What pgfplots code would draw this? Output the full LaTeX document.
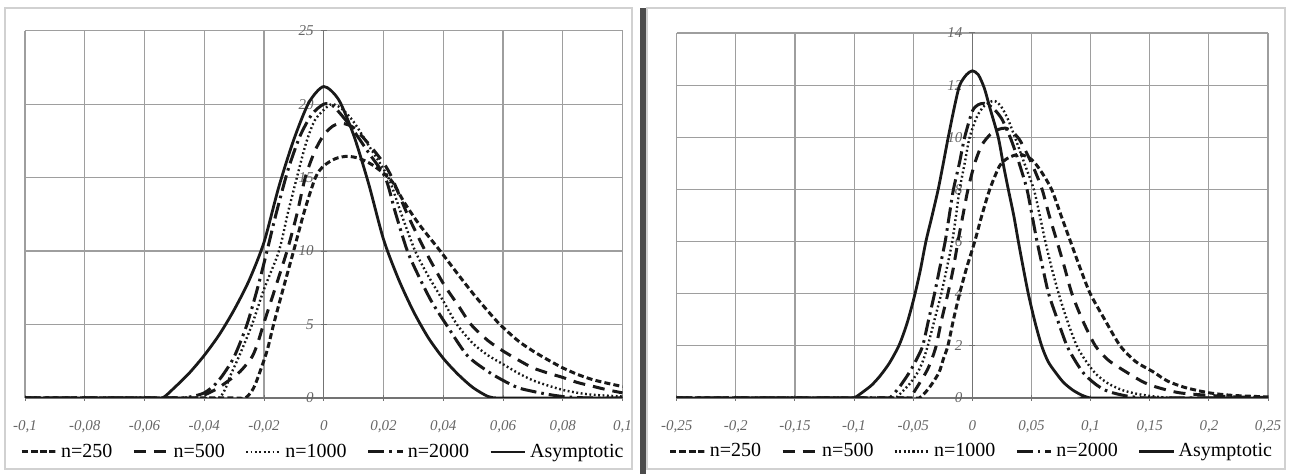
\documentclass[border=0pt]{standalone}
\usepackage{fontspec}
\setmainfont{Liberation Serif}
\usepackage{pgfplots}
\pgfplotsset{compat=1.18}
\pgfplotsset{
  panel/.style={
    scale only axis,
    axis lines=center,
    axis line style={-, draw=black!55, line width=0.7pt},
    hide obscured x ticks=false, hide obscured y ticks=false,
    grid=major,
    grid style={draw=black!38, line width=0.6pt},
    tick style={draw=black!55, line width=0.5pt},
    major tick length=3pt,
    tick align=center,
    xticklabel style={font=\fontsize{7.5}{8}\selectfont\itshape, text=black!60, yshift=-6pt},
    yticklabel style={font=\fontsize{7.5}{8}\selectfont\itshape, text=black!60},
    legend columns=5,
    legend style={draw=none, fill=none, font=\fontsize{10}{12}\selectfont,
      /tikz/every even column/.append style={column sep=8pt},
      at={(0.5,-0.147)}, anchor=center},
  },
  s250/.style={black!90, line width=1.5pt, smooth, tension=0.45, dash pattern=on 3pt off 1.6pt},
  s500/.style={black!90, line width=1.5pt, smooth, tension=0.45, dash pattern=on 6pt off 4pt},
  s1000/.style={black!90, line width=1.2pt, smooth, tension=0.45, dash pattern=on 0.9pt off 1.3pt},
  s2000/.style={black!90, line width=1.5pt, smooth, tension=0.45, dash pattern=on 8pt off 2.5pt on 1.3pt off 2.5pt},
  sasy/.style={black!90, line width=1.4pt, smooth, tension=0.45},
}
\begin{document}
\begin{tikzpicture}
\useasboundingbox (0,0) rectangle (644.5pt,237pt);
\draw[black!18, line width=1pt] (2.5pt,2.5pt) rectangle (316pt,233pt);
\draw[black!18, line width=1pt] (323.5pt,2.5pt) rectangle (642.5pt,233pt);
\fill[black!70] (320pt,0pt) rectangle (323pt,233pt);

\begin{axis}[panel,
  at={(12.5pt,38pt)}, anchor=south west,
  width=298.75pt, height=183.65pt,
  xmin=-0.1, xmax=0.1, ymin=0, ymax=25,
  xtick={-0.1,-0.08,-0.06,-0.04,-0.02,0,0.02,0.04,0.06,0.08,0.1},
  xticklabels={{-0,1},{-0,08},{-0,06},{-0,04},{-0,02},{0},{0,02},{0,04},{0,06},{0,08},{0,1}},
  ytick={0,5,10,15,20,25},
  yticklabels={0,5,10,15,20,25},
]
\addplot[s250] coordinates {(-0.1,0) (-0.05,0) (-0.03,0) (-0.0263,0) (-0.024,0.5) (-0.0224,1.2) (-0.019,3.2) (-0.0168,5) (-0.0135,7.5) (-0.0101,10) (-0.0065,12.7) (-0.0028,15) (0,15.8) (0.004,16.3) (0.008,16.45) (0.012,16.3) (0.016,15.9) (0.02,15.3) (0.023,14.7) (0.027,13.3) (0.032,11.8) (0.039,10) (0.045,8.4) (0.05,7.1) (0.055,5.9) (0.059,5) (0.065,3.9) (0.07,3.2) (0.075,2.6) (0.08,2.05) (0.085,1.6) (0.09,1.25) (0.095,1.0) (0.1,0.78)};
\addlegendentry{n=250}
\addplot[s500] coordinates {(-0.1,0) (-0.06,0) (-0.046,0) (-0.043,0) (-0.04,0.2) (-0.036,0.6) (-0.0324,1.1) (-0.028,1.8) (-0.024,2.8) (-0.022,3.8) (-0.0202,5) (-0.017,7) (-0.0123,10) (-0.009,12.5) (-0.0062,15) (-0.003,16.8) (0,17.9) (0.003,18.5) (0.006,18.7) (0.01,18.4) (0.015,17.3) (0.02,16.0) (0.0228,15) (0.028,12.5) (0.034,10) (0.04,7.8) (0.045,6.3) (0.0493,5) (0.055,3.9) (0.06,3.2) (0.065,2.6) (0.07,2.05) (0.075,1.7) (0.08,1.4) (0.085,1.05) (0.09,0.8) (0.095,0.55) (0.1,0.35)};
\addlegendentry{n=500}
\addplot[s1000] coordinates {(-0.1,0) (-0.06,0) (-0.038,0) (-0.035,0) (-0.033,0.6) (-0.0313,1.5) (-0.028,3.0) (-0.024,5) (-0.02,7.4) (-0.015,10) (-0.012,12.6) (-0.009,15) (-0.006,17.3) (-0.003,18.9) (0.001,19.8) (0.003,20.0) (0.006,19.7) (0.01,18.8) (0.015,17.2) (0.0216,15) (0.026,12.5) (0.0306,10) (0.035,8.3) (0.04,6.6) (0.0446,5) (0.05,3.7) (0.055,2.9) (0.06,2.3) (0.065,1.7) (0.07,1.2) (0.075,0.85) (0.08,0.55) (0.085,0.35) (0.09,0.22) (0.1,0.1)};
\addlegendentry{n=1000}
\addplot[s2000] coordinates {(-0.1,0) (-0.06,0) (-0.05,0) (-0.047,0) (-0.043,0.15) (-0.04,0.35) (-0.037,0.8) (-0.034,1.5) (-0.03,2.8) (-0.0257,5) (-0.022,7.6) (-0.019,10) (-0.016,12.5) (-0.012,15.5) (-0.008,17.8) (-0.004,19.3) (0,20.0) (0.003,19.9) (0.007,19.0) (0.01,18.2) (0.015,16.7) (0.0206,15) (0.024,12.6) (0.028,10) (0.032,8.2) (0.036,6.6) (0.041,5) (0.048,2.9) (0.055,1.8) (0.06,1.2) (0.065,0.7) (0.07,0.45) (0.075,0.25) (0.08,0.1) (0.085,0.03) (0.09,0) (0.1,0)};
\addlegendentry{n=2000}
\addplot[sasy] coordinates {(-0.1,0) (-0.07,0) (-0.058,0) (-0.054,0) (-0.05,0.7) (-0.045,1.7) (-0.04,2.9) (-0.035,4.3) (-0.03,6.0) (-0.025,8.0) (-0.02,10.6) (-0.015,14.4) (-0.01,17.6) (-0.005,20.1) (0,21.2) (0.005,20.3) (0.01,17.9) (0.015,14.6) (0.02,10.8) (0.025,8.1) (0.03,5.9) (0.035,4.1) (0.04,2.7) (0.045,1.6) (0.05,0.7) (0.055,0.1) (0.058,0) (0.062,0) (0.08,0) (0.1,0)};
\addlegendentry{Asymptotic}
\end{axis}

\begin{axis}[panel,
  at={(338.35pt,38pt)}, anchor=south west,
  width=295.65pt, height=182.5pt,
  xmin=-0.25, xmax=0.25, ymin=0, ymax=14,
  xtick={-0.25,-0.2,-0.15,-0.1,-0.05,0,0.05,0.1,0.15,0.2,0.25},
  xticklabels={{-0,25},{-0,2},{-0,15},{-0,1},{-0,05},{0},{0,05},{0,1},{0,15},{0,2},{0,25}},
  ytick={0,2,4,6,8,10,12,14},
  yticklabels={0,2,4,6,8,10,12,14},
]
\addplot[s250] coordinates {(-0.25,0) (-0.1,0) (-0.05,0) (-0.045,0) (-0.04,0.2) (-0.034,0.55) (-0.028,1) (-0.0245,1.5) (-0.0207,2) (-0.016,3) (-0.0108,4) (-0.0048,5) (0.002,6) (0.008,7) (0.0147,8) (0.023,8.9) (0.03,9.2) (0.04,9.35) (0.05,9.15) (0.058,8.7) (0.067,8) (0.075,7) (0.083,6) (0.091,5) (0.0997,4) (0.112,3) (0.125,2) (0.138,1.4) (0.153,1) (0.165,0.65) (0.18,0.4) (0.2,0.2) (0.22,0.1) (0.25,0.04)};
\addlegendentry{n=250}
\addplot[s500] coordinates {(-0.25,0) (-0.1,0) (-0.058,0) (-0.053,0) (-0.047,0.4) (-0.039,1) (-0.035,1.4) (-0.0306,2) (-0.026,3) (-0.0207,4) (-0.016,5) (-0.0122,6) (-0.008,7) (-0.0037,8) (0.002,9) (0.008,9.7) (0.015,10.1) (0.022,10.3) (0.028,10.35) (0.034,10.2) (0.04,9.9) (0.047,9.3) (0.053,8.7) (0.059,8) (0.065,7) (0.0716,6) (0.078,5) (0.0842,4) (0.093,3) (0.104,2) (0.115,1.45) (0.13,1) (0.145,0.6) (0.157,0.4) (0.175,0.2) (0.2,0.1) (0.225,0.04) (0.25,0.02)};
\addlegendentry{n=500}
\addplot[s1000] coordinates {(-0.25,0) (-0.1,0) (-0.07,0) (-0.065,0) (-0.058,0.3) (-0.052,0.6) (-0.046,1) (-0.042,1.4) (-0.0377,2) (-0.032,3) (-0.0263,4) (-0.0215,5) (-0.017,6) (-0.0138,7) (-0.0108,8) (-0.0065,9) (-0.0023,10) (0.004,10.8) (0.01,11.2) (0.018,11.4) (0.024,11.2) (0.03,10.7) (0.036,10) (0.044,9) (0.052,8) (0.057,7) (0.0617,6) (0.067,5) (0.073,4) (0.08,3) (0.0883,2) (0.097,1.35) (0.105,0.9) (0.115,0.55) (0.127,0.3) (0.14,0.15) (0.155,0.05) (0.17,0) (0.18,0) (0.25,0)};
\addlegendentry{n=1000}
\addplot[s2000] coordinates {(-0.25,0) (-0.1,0) (-0.075,0) (-0.07,0) (-0.062,0.4) (-0.053,1) (-0.047,1.5) (-0.042,2) (-0.037,3) (-0.032,4) (-0.0275,5) (-0.023,6) (-0.0195,7) (-0.016,8) (-0.011,9) (-0.0065,10) (0,11.0) (0.005,11.25) (0.01,11.3) (0.015,11.2) (0.02,11.0) (0.025,10.7) (0.029,10.3) (0.032,10) (0.036,9.5) (0.041,8.8) (0.0462,8) (0.0505,7) (0.0547,6) (0.0595,5) (0.0645,4) (0.072,3) (0.08,2) (0.088,1.35) (0.095,0.9) (0.105,0.5) (0.115,0.25) (0.13,0.08) (0.145,0) (0.155,0) (0.25,0)};
\addlegendentry{n=2000}
\addplot[sasy] coordinates {(-0.25,0) (-0.15,0) (-0.105,0) (-0.1,0) (-0.092,0.25) (-0.085,0.5) (-0.078,0.85) (-0.07,1.35) (-0.0617,2.05) (-0.055,2.9) (-0.049,3.9) (-0.044,4.9) (-0.0393,6) (-0.034,7) (-0.0289,8) (-0.025,8.9) (-0.0204,10) (-0.015,11.2) (-0.0107,12) (-0.005,12.4) (0,12.55) (0.005,12.4) (0.01,11.9) (0.015,11.1) (0.0219,10) (0.026,9.0) (0.0304,8) (0.035,7) (0.0389,6) (0.043,5) (0.0473,4) (0.053,2.9) (0.0586,2) (0.064,1.4) (0.07,1) (0.077,0.6) (0.085,0.3) (0.093,0.1) (0.1,0) (0.107,0) (0.25,0)};
\addlegendentry{Asymptotic}
\end{axis}
\end{tikzpicture}
\end{document}
